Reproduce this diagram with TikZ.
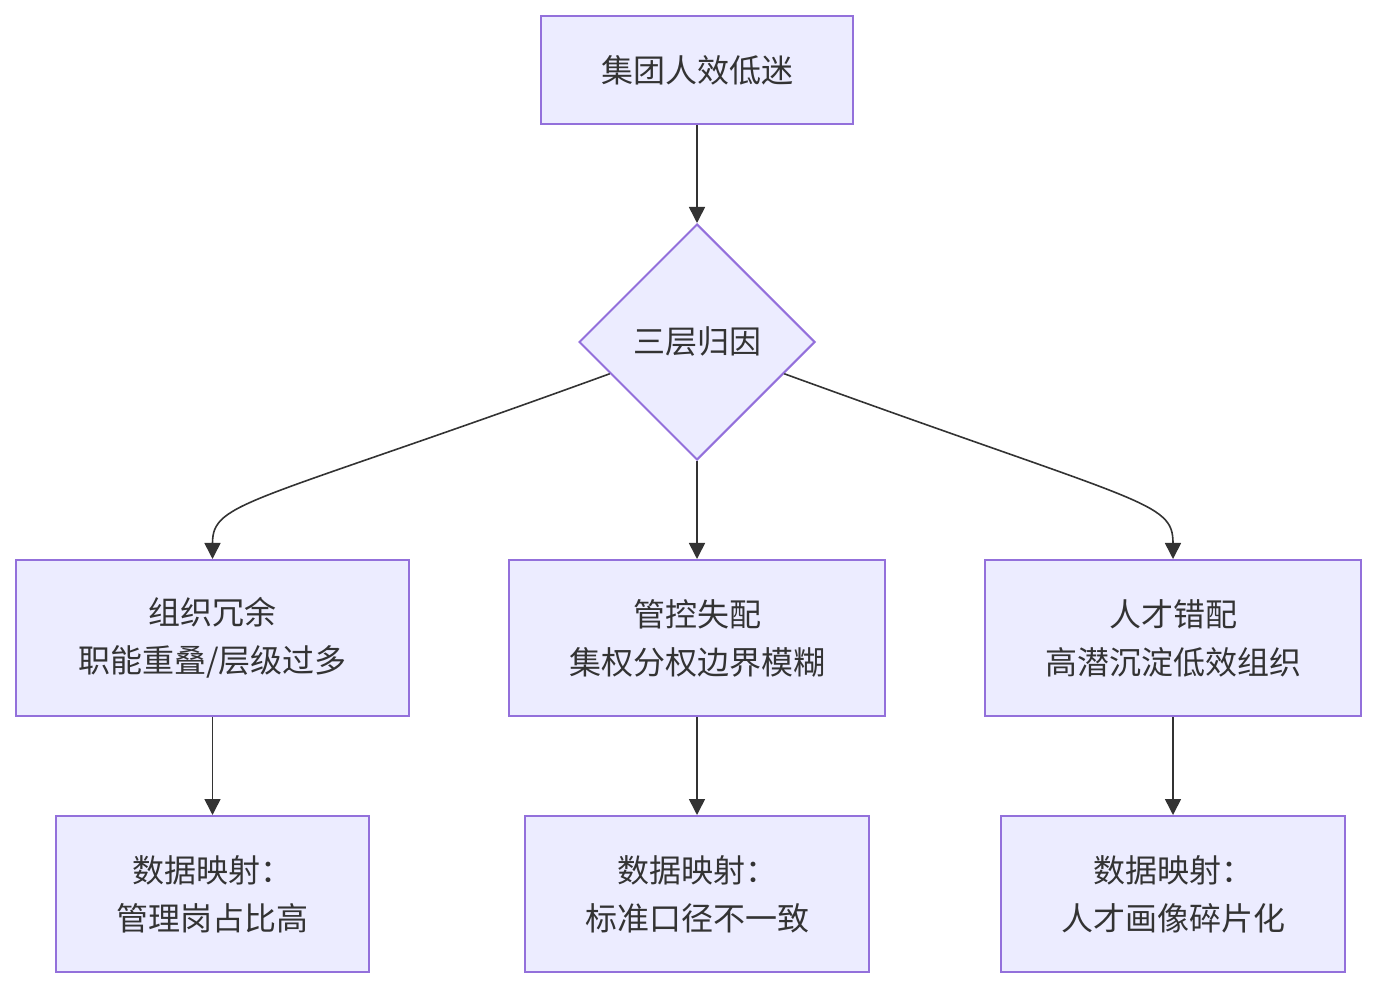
\documentclass[tikz,border=0pt]{standalone}
\usepackage{fontspec}
\usepackage{tikz}
\usetikzlibrary{arrows.meta,shapes.geometric}
\newfontfamily\cjk{Noto Sans CJK SC}
\definecolor{boxfill}{HTML}{ECECFF}
\definecolor{boxline}{HTML}{9370DB}
\definecolor{arrowcol}{HTML}{333333}

\tikzset{
  flowbox/.style={draw=boxline, fill=boxfill, line width=1pt, align=center,
    text=arrowcol, font=\cjk\fontsize{16}{24}\selectfont, inner sep=0pt},
  arr/.style={draw=arrowcol, line width=0.8pt, -{Triangle[length=8pt,width=8pt]}}
}

\begin{document}
\begin{tikzpicture}[x=0.5pt,y=-0.5pt]
\useasboundingbox (0,0) rectangle (1376,988);
\node[flowbox, minimum width=312*0.5pt, minimum height=108*0.5pt] (top) at (697,70) {集团人效低迷};
\node[flowbox, diamond, minimum width=236*0.5pt, minimum height=236*0.5pt] (dia) at (697,342) {三层归因};
\node[flowbox, minimum width=393*0.5pt, minimum height=156*0.5pt] (org) at (212.5,638) {组织冗余\\职能重叠/层级过多};
\node[flowbox, minimum width=376*0.5pt, minimum height=156*0.5pt] (ctrl) at (697,638) {管控失配\\集权分权边界模糊};
\node[flowbox, minimum width=376*0.5pt, minimum height=156*0.5pt] (tal) at (1173,638) {人才错配\\高潜沉淀低效组织};
\node[flowbox, minimum width=313*0.5pt, minimum height=156*0.5pt] (dorg) at (212.5,894) {数据映射：\\管理岗占比高};
\node[flowbox, minimum width=344*0.5pt, minimum height=156*0.5pt] (dctrl) at (697,894) {数据映射：\\标准口径不一致};
\node[flowbox, minimum width=344*0.5pt, minimum height=156*0.5pt] (dtal) at (1173,894) {数据映射：\\人才画像碎片化};

\draw[arr] (top) -- (dia);
\draw[arr] (dia.200) .. controls +(-360,131) and +(0,-58) .. (org.north);
\draw[arr] (dia) -- (ctrl);
\draw[arr] (dia.-20) .. controls +(360,131) and +(0,-58) .. (tal.north);
\draw[arr] (org) -- (dorg);
\draw[arr] (ctrl) -- (dctrl);
\draw[arr] (tal) -- (dtal);
\end{tikzpicture}
\end{document}
